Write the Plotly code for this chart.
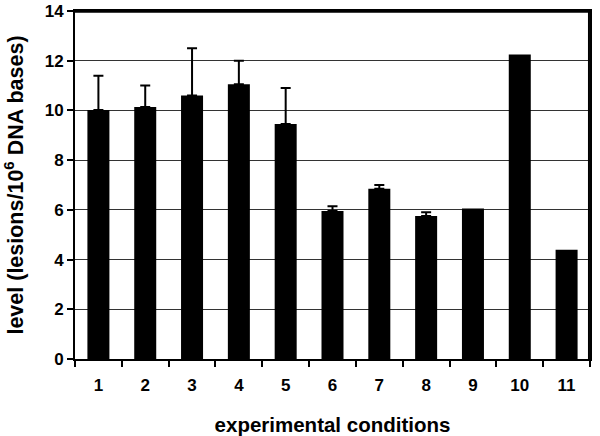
import plotly.graph_objects as go

categories = ["1", "2", "3", "4", "5", "6", "7", "8", "9", "10", "11"]
levels = [10.02, 10.14, 10.6, 11.05, 9.45, 5.95, 6.85, 5.75, 6.05, 12.25, 4.4]
err_up = [1.38, 0.86, 1.9, 0.95, 1.45, 0.2, 0.15, 0.15, None, None, None]
y_ticks = [0, 2, 4, 6, 8, 10, 12, 14]

font = "Liberation Sans, Arial, sans-serif"

with_err = [i for i, e in enumerate(err_up) if e is not None]
no_err = [i for i, e in enumerate(err_up) if e is None]

fig = go.Figure()
fig.add_trace(go.Bar(
    x=[categories[i] for i in with_err], y=[levels[i] for i in with_err],
    marker=dict(color="black", line=dict(width=0)), width=0.47,
    error_y=dict(type="data", symmetric=False,
                 array=[err_up[i] for i in with_err],
                 arrayminus=[0]*len(with_err), color="black", thickness=2, width=5),
))
fig.add_trace(go.Bar(
    x=[categories[i] for i in no_err], y=[levels[i] for i in no_err],
    marker=dict(color="black", line=dict(width=0)), width=0.47,
))

fig.update_layout(
    width=600, height=436,
    margin=dict(l=75, r=10, t=11, b=77),
    barmode="overlay",
    paper_bgcolor="white", plot_bgcolor="white",
    font=dict(family=font, color="black"),
    showlegend=False,
    xaxis=dict(
        type="category", categoryorder="array", categoryarray=categories,
        tickson="boundaries", ticks="outside", ticklen=6,
        tickwidth=2, tickcolor="black", automargin=False, ticklabelstandoff=10,
        showline=True, linecolor="black", linewidth=2, mirror=True,
        tickfont=dict(size=17, family=font, weight="bold"),
        title=dict(text="<b>experimental conditions</b>", font=dict(size=20.5, family=font), standoff=24),
        showgrid=False,
    ),
    yaxis=dict(
        range=[0, 14], tickvals=y_ticks, ticks="outside", ticklen=6,
        tickwidth=2, tickcolor="black", automargin=False,
        showline=True, linecolor="black", linewidth=2, mirror=True,
        showgrid=True, gridcolor="#333", gridwidth=1,
        tickfont=dict(size=17, family=font, weight="bold"),
        title=dict(text="<b>level (lesions/10<sup>6</sup> DNA bases)</b>", font=dict(size=21.5, family=font), standoff=25),
        zeroline=False,
    ),
    shapes=[
        dict(type="line", xref="paper", yref="paper", x0=0, x1=1, y0=0.998, y1=0.998,
             line=dict(color="black", width=2), layer="above"),
        dict(type="line", xref="paper", yref="paper", x0=0.998, x1=0.998, y0=0, y1=1,
             line=dict(color="black", width=2), layer="above"),
    ],
)

fig.write_html("out.html", config={"displayModeBar": False},
               post_script="document.body.style.margin='0';")
